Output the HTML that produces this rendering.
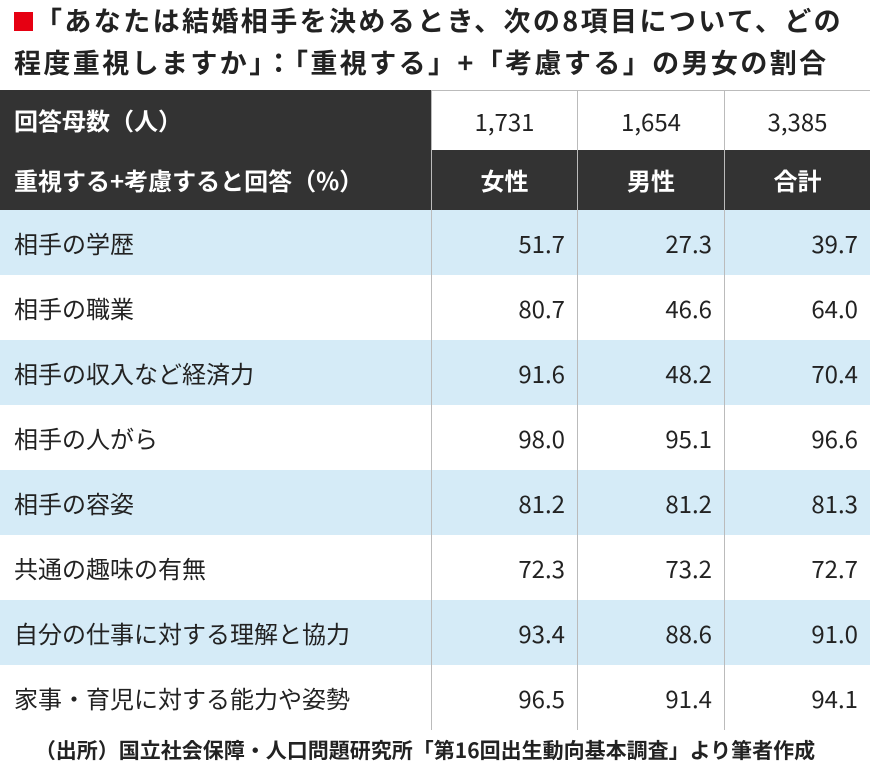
<!DOCTYPE html><html><head><meta charset="utf-8"><style>
body{margin:0;width:870px;height:772px;background:#fff;font-family:"Noto Sans CJK JP",sans-serif;color:#222;position:relative;overflow:hidden}
.t{position:absolute;left:14px;font-size:27px;font-weight:bold;white-space:nowrap;line-height:30px;letter-spacing:2.4px}
.c{position:absolute;box-sizing:border-box;font-size:24px;line-height:24px;display:flex;align-items:center;white-space:nowrap}
.sq{display:inline-block;width:19px;height:19px;background:#e60012;margin-right:2px;vertical-align:0px}
</style></head><body>
<div class="t" style="top:5px"><span class="sq"></span>「あなたは結婚相手を決めるとき、次の8項目について、どの</div>
<div class="t" style="top:47px">程度重視しますか」：「重視する」+「考慮する」の男女の割合</div>
<div class="c" style="left:0;top:90px;width:431px;height:120px;background:#333"></div>
<div class="c" style="left:14px;top:90px;height:60px;color:#fff;font-weight:bold">回答母数（人）</div>
<div class="c" style="left:14px;top:150px;height:60px;color:#fff;font-weight:bold">重視する+考慮すると回答（%）</div>
<div id="g"></div>
<div class="c" style="left:0;top:730px;width:850px;height:40px;justify-content:center;font-size:21px;font-weight:bold">（出所）国立社会保障・人口問題研究所「第16回出生動向基本調査」より筆者作成</div>
<script>
const xs=[431,577,724,870];
let h='';
const n=['1,731','1,654','3,385'],hd=['女性','男性','合計'];
for(let i=0;i<3;i++){
h+=`<div class="c" style="left:${xs[i]}px;top:90px;width:${xs[i+1]-xs[i]}px;height:60px;justify-content:center;border-left:1px solid #bbb;border-top:1px solid #bbb">${n[i]}</div>`;
h+=`<div class="c" style="left:${xs[i]}px;top:150px;width:${xs[i+1]-xs[i]}px;height:60px;justify-content:center;background:#333;color:#fff;font-weight:bold;border-left:1px solid #bbb">${hd[i]}</div>`;
}
const rows=[['相手の学歴','51.7','27.3','39.7'],['相手の職業','80.7','46.6','64.0'],['相手の収入など経済力','91.6','48.2','70.4'],['相手の人がら','98.0','95.1','96.6'],['相手の容姿','81.2','81.2','81.3'],['共通の趣味の有無','72.3','73.2','72.7'],['自分の仕事に対する理解と協力','93.4','88.6','91.0'],['家事・育児に対する能力や姿勢','96.5','91.4','94.1']];
rows.forEach((r,j)=>{const y=210+j*65,bg=j%2==0?'#d5ebf7':'#fff';
h+=`<div class="c" style="left:0;top:${y}px;width:870px;height:65px;background:${bg}"></div>`;
h+=`<div class="c" style="left:14px;top:${y}px;height:65px">${r[0]}</div>`;
for(let i=0;i<3;i++)h+=`<div class="c" style="left:${xs[i]}px;top:${y}px;width:${xs[i+1]-xs[i]}px;height:65px;justify-content:flex-end;padding-right:12px;border-left:1px solid #bbb">${r[i+1]}</div>`;
});
document.getElementById('g').innerHTML=h;
</script>
</body></html>
